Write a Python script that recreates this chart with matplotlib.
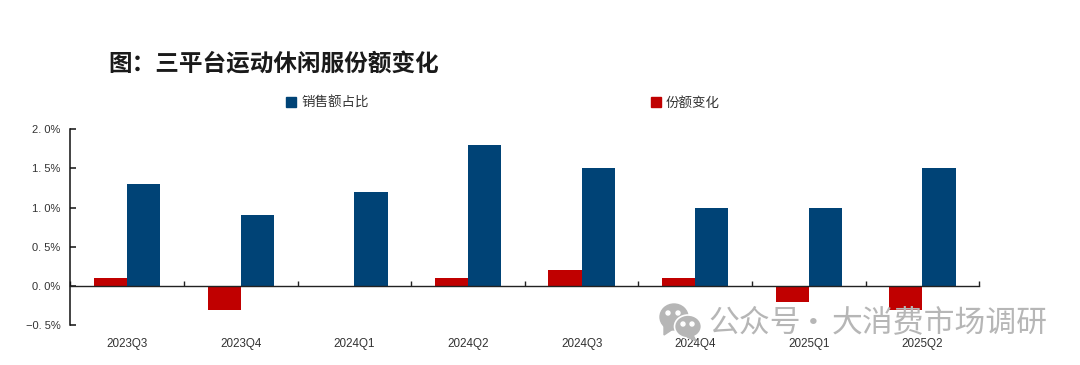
import numpy as np
import matplotlib
matplotlib.use("Agg")
import matplotlib.pyplot as plt
from matplotlib.patches import Ellipse, Polygon

plt.rcParams["font.family"] = ["Noto Sans CJK SC", "DejaVu Sans"]

quarters = ["2023Q3", "2023Q4", "2024Q1", "2024Q2", "2024Q3", "2024Q4", "2025Q1", "2025Q2"]
sales_share = [1.3, 0.9, 1.2, 1.8, 1.5, 1.0, 1.0, 1.5]
share_change = [0.1, -0.3, 0.0, 0.1, 0.2, 0.1, -0.2, -0.3]
y_ticks = [-0.5, 0.0, 0.5, 1.0, 1.5, 2.0]

W, H = 1080, 365
BLUE = "#004376"
RED = "#C00000"
TEXT = "#333333"

fig = plt.figure(figsize=(W / 100, H / 100), dpi=100, facecolor="white")

# axes box in pixels
left, right, top, bottom = 70.4, 979.2, 129.0, 325.3
ax = fig.add_axes([left / W, 1 - bottom / H, (right - left) / W, (bottom - top) / H])

x = np.arange(len(quarters))
bar_w = 0.292
ax.bar(x - bar_w / 2, share_change, bar_w, color=RED, label="份额变化", zorder=2)
ax.bar(x + bar_w / 2, sales_share, bar_w, color=BLUE, label="销售额占比", zorder=2)

ax.set_xlim(-0.5, len(quarters) - 0.5)
ax.set_ylim(-0.5, 2.0)

for side in ["top", "right"]:
    ax.spines[side].set_visible(False)
ax.spines["left"].set_linewidth(1.1)
ax.spines["left"].set_color("#111111")
ax.spines["bottom"].set_position(("data", 0))
ax.spines["bottom"].set_linewidth(1.0)
ax.spines["bottom"].set_color("#222222")
ax.spines["bottom"].set_zorder(3)

ax.set_yticks(y_ticks)
ax.set_yticklabels([f"{v:.1f}%".replace("-", "−").replace(".", ". ") for v in y_ticks],
                   fontsize=8, color=TEXT, family=["Liberation Sans"])
ax.tick_params(axis="y", direction="in", length=4.3, width=1.1, pad=7, color="#111111")

ax.set_xticks(np.arange(len(quarters) + 1) - 0.5)
ax.set_xticklabels([])
ax.tick_params(axis="x", direction="in", length=3.8, width=1.0, color="#222222")

# category labels sit below the plot, not at the zero line
for i, q in enumerate(quarters):
    ax.annotate(q, (i, 0), xycoords=("data", "axes fraction"), xytext=(0, -13.6),
                textcoords="offset points", ha="center", va="center",
                fontsize=8.4, color=TEXT, family=["Liberation Sans"])

# title and legend
fig.text(108 / W, 1 - 64.5 / H, "图：三平台运动休闲服份额变化", fontsize=17, fontweight="bold",
         color="#1a1a1a", ha="left", va="center")

ov = fig.add_axes([0, 0, 1, 1], facecolor="none")
ov.set_xlim(0, W)
ov.set_ylim(H, 0)
ov.axis("off")

handles, labels = ax.get_legend_handles_labels()
for (lx, handle, label) in [(286, handles[1], labels[1]), (651, handles[0], labels[0])]:
    ov.add_patch(plt.Rectangle((lx, 97), 10, 10, color=handle.patches[0].get_facecolor()))
    ov.text(lx + 15, 103, label, fontsize=9.7, color=TEXT, va="center", ha="left")

# watermark, icon then text
GREY = "#b6b6b6"
ov.add_patch(Ellipse((674, 317), 28, 26, color=GREY, zorder=5))
ov.add_patch(Polygon([[664, 325], [664, 335], [673, 329]], color=GREY, zorder=5))
ov.add_patch(Ellipse((688, 326.5), 27, 23, fc=GREY, ec="white", lw=1.2, zorder=6))
ov.add_patch(Polygon([[693, 335], [696, 341], [687, 337]], color=GREY, zorder=6))
for cx, cy in [(668, 313), (678, 313), (683, 324), (692, 324)]:
    ov.add_patch(Ellipse((cx, cy), 4, 4, color="white", zorder=7))
ov.text(708, 323, "公众号", fontsize=22.2, color=GREY, va="center", ha="left", zorder=7)
ov.text(813, 323, "·", fontsize=22.2, color=GREY, va="center", ha="center", zorder=7)
ov.text(832, 323, "大消费市场调研", fontsize=22.2, color=GREY, va="center", ha="left", zorder=7)

fig.savefig("out.png", dpi=100)
